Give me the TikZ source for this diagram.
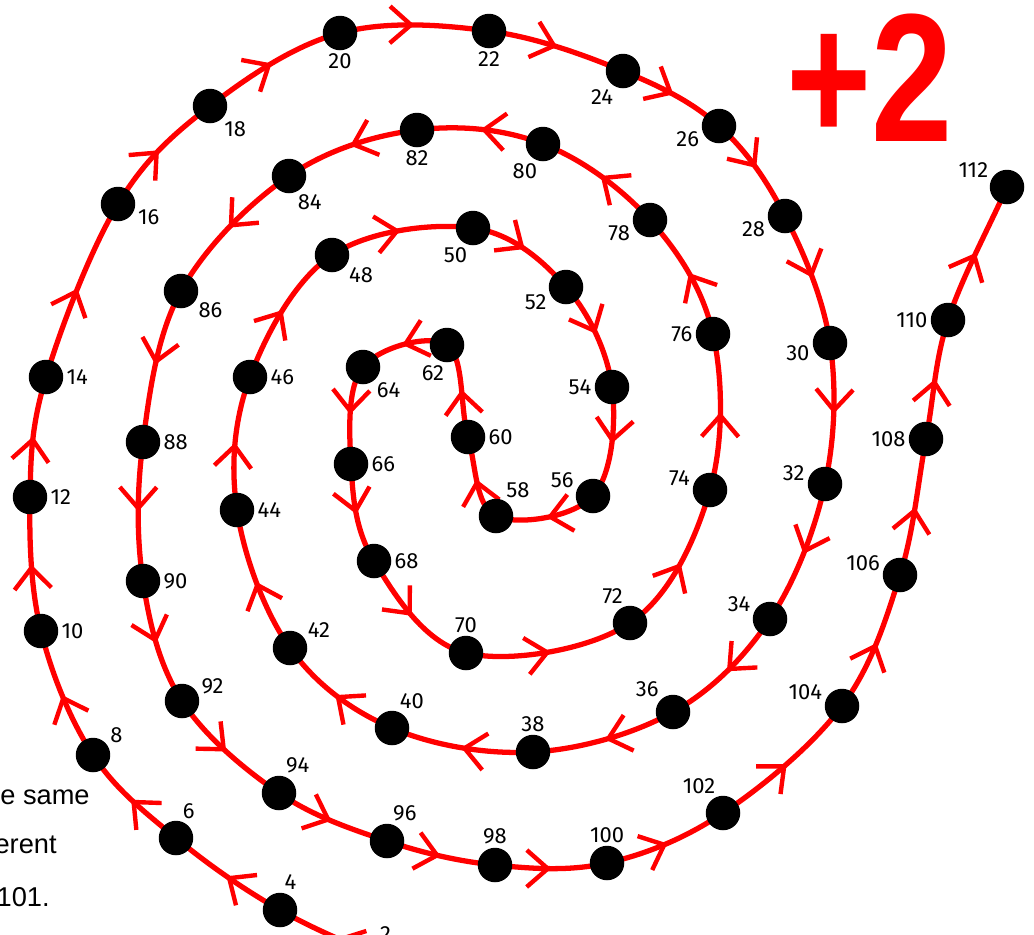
\documentclass[tikz,border=0pt]{standalone}
\usepackage{fontspec}
\setmainfont{Liberation Sans}
\newfontfamily\numfont{Fira Sans}
\usetikzlibrary{arrows.meta, calc, decorations.markings, backgrounds}

\begin{document}
\begin{tikzpicture}[
  x=0.02cm, y=-0.02cm,
  dot/.style={circle, fill=black, inner sep=0pt, minimum size=6.9mm},
  lbl/.style={font=\numfont\fontsize{12.5}{12.5}\selectfont, inner sep=0.5pt},
  label distance=1pt,
  wire/.style={
    draw=red, line width=3pt,
    postaction={decorate},
    decoration={markings, mark=at position 0.5 with
      {\arrow{Straight Barb[length=12pt, width=21pt, line width=2.5pt]}}}
  },
  note/.style={font=\fontsize{15.5}{18}\selectfont, anchor=base east, inner sep=0pt},
  big/.style={text=red, anchor=base west, inner sep=0pt}
]
\useasboundingbox (0,0) rectangle (1034,934);

% outer ring (clockwise)
\coordinate (d0) at (510,1000);
\node[dot, label={[lbl]98:2}]    (d2)  at (395,962) {};
\node[dot, label={[lbl]80:4}]    (d4)  at (280,910) {};
\node[dot, label={[lbl]73:6}]    (d6)  at (176,838) {};
\node[dot, label={[lbl]34:8}]    (d8)  at (93,755)  {};
\node[dot, label={[lbl]0:10}]    (d10) at (41,631)  {};
\node[dot, label={[lbl]0:12}]    (d12) at (30,497)  {};
\node[dot, label={[lbl]0:14}]    (d14) at (46,377)  {};
\node[dot, label={[lbl]-14:16}]  (d16) at (118,204) {};
\node[dot, label={[lbl]-47:18}]  (d18) at (210,106) {};
\node[dot, label={[lbl]-90:20}]  (d20) at (340,33)  {};
\node[dot, label={[lbl]-90:22}]  (d22) at (489,31)  {};
\node[dot, label={[lbl]-117:24}] (d24) at (623,71)  {};
\node[dot, label={[lbl]194:26}]  (d26) at (719,126) {};
\node[dot, label={[lbl]194:28}]  (d28) at (785,216) {};
\node[dot, label={[lbl]185:30}]  (d30) at (830,343) {};
\node[dot, label={[lbl]175:32}]  (d32) at (825,484) {};
\node[dot, label={[lbl]162:34}]  (d34) at (770,619) {};
\node[dot, label={[lbl]133:36}]  (d36) at (673,712) {};
\node[dot, label={[lbl]90:38}]   (d38) at (533,752) {};
\node[dot, label={[lbl]70:40}]   (d40) at (392,728) {};
\node[dot, label={[lbl]30:42}]   (d42) at (290,648) {};
\node[dot, label={[lbl]0:44}]    (d44) at (237,510) {};
\node[dot, label={[lbl]0:46}]    (d46) at (250,377) {};
\node[dot, label={[lbl]-35:48}]  (d48) at (332,255) {};
\node[dot, label={[lbl]-104:50}] (d50) at (473,228) {};
\node[dot, label={[lbl]200:52}]  (d52) at (566,287) {};
\node[dot, label={[lbl]180:54}]  (d54) at (612,387) {};
\node[dot, label={[lbl]160:56}]  (d56) at (593,496) {};

% centre turn
\node[dot, label={[lbl]62:58}]   (d58) at (496,516) {};
\node[dot, label={[lbl]0:60}]    (d60) at (468,437) {};
\node[dot, label={[lbl]-95:62}]  (d62) at (447,345) {};
\node[dot, label={[lbl]-49:64}]  (d64) at (363,367) {};

% way back out (anticlockwise)
\node[dot, label={[lbl]0:66}]    (d66)  at (351,464) {};
\node[dot, label={[lbl]0:68}]    (d68)  at (374,561) {};
\node[dot, label={[lbl]90:70}]   (d70)  at (466,653) {};
\node[dot, label={[lbl]108:72}]  (d72)  at (630,623) {};
\node[dot, label={[lbl]170:74}]  (d74)  at (710,490) {};
\node[dot, label={[lbl]180:76}]  (d76)  at (713,334) {};
\node[dot, label={[lbl]192:78}]  (d78)  at (650,220) {};
\node[dot, label={[lbl]-104:80}] (d80)  at (543,144) {};
\node[dot, label={[lbl]-90:82}]  (d82)  at (417,130) {};
\node[dot, label={[lbl]-67:84}]  (d84)  at (289,176) {};
\node[dot, label={[lbl]-32:86}]  (d86)  at (181,291) {};
\node[dot, label={[lbl]0:88}]    (d88)  at (143,442) {};
\node[dot, label={[lbl]0:90}]    (d90)  at (143,581) {};
\node[dot, label={[lbl]18:92}]   (d92)  at (182,701) {};
\node[dot, label={[lbl]72:94}]   (d94)  at (279,793) {};
\node[dot, label={[lbl]75:96}]   (d96)  at (387,841) {};
\node[dot, label={[lbl]90:98}]   (d98)  at (495,865) {};
\node[dot, label={[lbl]90:100}]  (d100) at (607,863) {};
\node[dot, label={[lbl]110:102}] (d102) at (723,813) {};
\node[dot, label={[lbl]164:104}] (d104) at (842,706) {};
\node[dot, label={[lbl]170:106}] (d106) at (900,575) {};
\node[dot, label={[lbl]180:108}] (d108) at (926,439) {};
\node[dot, label={[lbl]180:110}] (d110) at (948,320) {};
\node[dot, label={[lbl]156:112}] (d112) at (1007,187) {};
\coordinate (d114) at (1045,100);

% the path, one piece from dot to dot (behind the dots)
\begin{scope}[on background layer]
\foreach \a in {2,4,...,110}{
  \pgfmathtruncatemacro\p{\a-2}
  \pgfmathtruncatemacro\b{\a+2}
  \pgfmathtruncatemacro\n{\a+4}
  \draw[wire] (d\a.center)
    .. controls ($(d\a)+0.1667*(d\b)-0.1667*(d\p)$)
    and ($(d\b)+0.1667*(d\a)-0.1667*(d\n)$) .. (d\b.center);
}
\end{scope}

% step size
\node[big] (plus) at (786,141)
  {\scalebox{0.8}[1]{\bfseries\fontsize{104}{104}\selectfont +2}};

% cut-off text on the left
\node[note] (txta) at (90,804) {e same};
\node[note] (txtb) at (57,853) {erent};
\node[note] (txtc) at (50,906) {101.};

\end{tikzpicture}
\end{document}
